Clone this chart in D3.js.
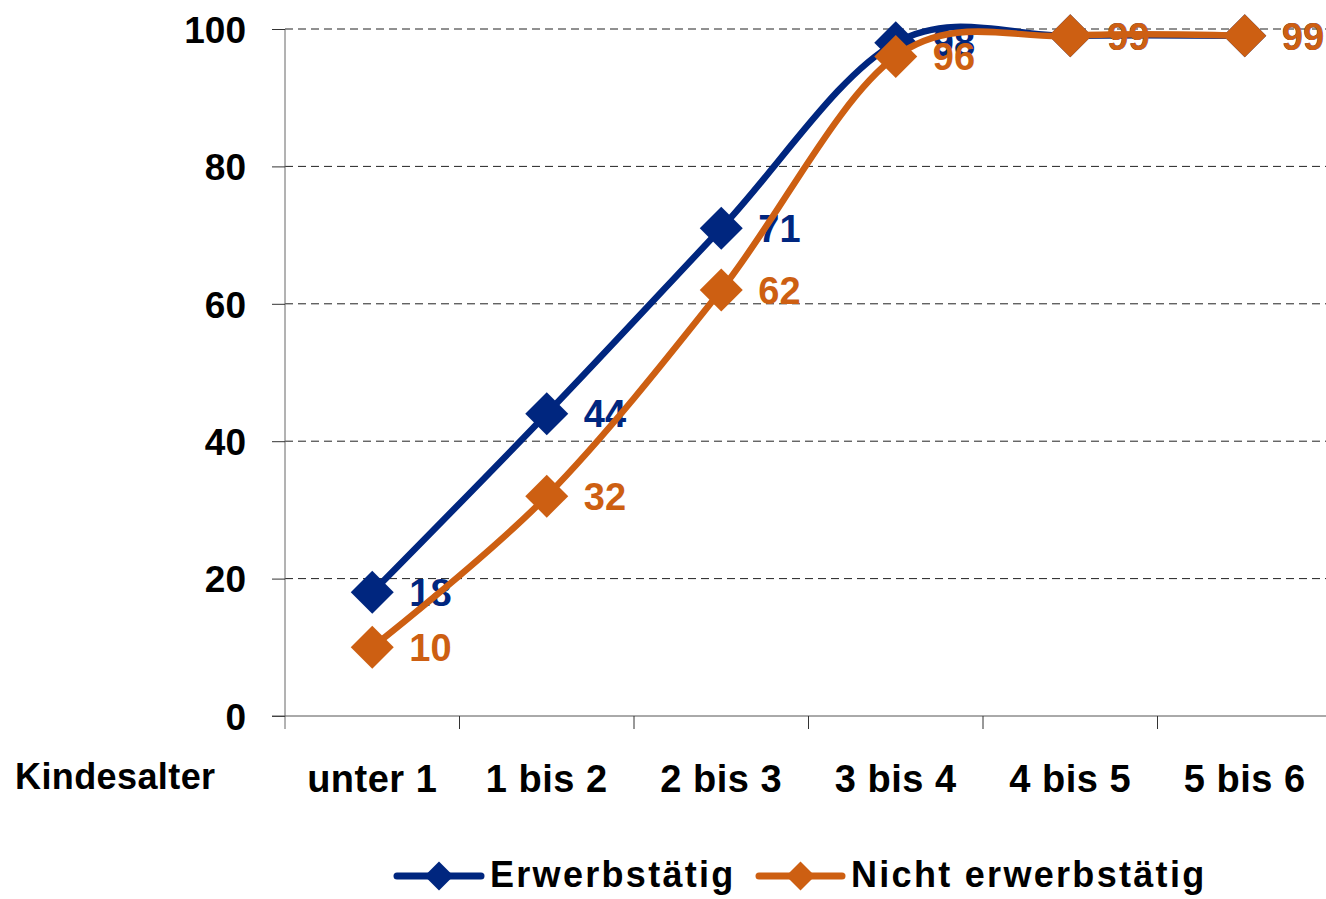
<!DOCTYPE html>
<html><head><meta charset="utf-8">
<script src="https://cdn.jsdelivr.net/npm/d3@7"></script>
<style>body{margin:0;background:#fff}svg{display:block}text{font-family:"Liberation Sans",Arial,sans-serif;font-weight:bold}</style>
</head><body>
<svg id="c" width="1326" height="899"></svg>
<script>
const categories = ["unter 1","1 bis 2","2 bis 3","3 bis 4","4 bis 5","5 bis 6"];
const erwerbstaetig = [18,44,71,98,99,99];
const nichtErwerbstaetig = [10,32,62,96,99,99];
const yTicks = [0,20,40,60,80,100];
const seriesNames = ["Erwerbstätig","Nicht erwerbstätig"];
const colors = ["#00267f","#cd5f12"];

const svg = d3.select("#c");
const x = d3.scaleBand().domain(categories).range([285,1332]);
const y = d3.scaleLinear().domain([0,100]).range([716,29]);

// gridlines
svg.append("g").selectAll("line").data(yTicks.filter(d=>d>0)).join("line")
  .attr("x1",285).attr("x2",1326).attr("y1",d=>y(d)).attr("y2",d=>y(d))
  .attr("stroke","#222").attr("stroke-width",1).attr("stroke-dasharray","8,5");

// y axis
const yAxis = svg.append("g").attr("transform","translate(285,0)")
  .call(d3.axisLeft(y).tickValues(yTicks).tickSize(13).tickPadding(26));
yAxis.select(".domain").attr("stroke","#666").attr("d","M0,29V729");
yAxis.selectAll(".tick line").attr("stroke","#333");
yAxis.selectAll("text").attr("font-size",37).attr("fill","#000")
  .attr("font-family","'Liberation Sans',Arial,sans-serif").attr("font-weight","bold").attr("dy","0.36em");

// x axis
const xAxis = svg.append("g").attr("transform","translate(0,716)")
  .call(d3.axisBottom(x).tickSize(0).tickPadding(0));
xAxis.select(".domain").attr("stroke","#555").attr("d","M272,0H1332");
xAxis.selectAll(".tick text").attr("font-size",38).attr("fill","#000")
  .attr("font-family","'Liberation Sans',Arial,sans-serif").attr("font-weight","bold")
  .attr("y",76).attr("dy",0).attr("letter-spacing",0.5);
// band boundary ticks
svg.append("g").selectAll("line").data(categories.slice(1)).join("line")
  .attr("x1",d=>x(d)).attr("x2",d=>x(d)).attr("y1",716).attr("y2",729)
  .attr("stroke","#333").attr("stroke-width",1);

svg.append("text").attr("x",15).attr("y",789).attr("font-size",36).attr("letter-spacing",0.4)
  .attr("fill","#000").text("Kindesalter");

const cx = d => x(d) + x.bandwidth()/2;
const line = d3.line().x((d,i)=>cx(categories[i])).y(d=>y(d)).curve(d3.curveCardinal.tension(0));
const diamond = (s) => `M0,${-s}L${s},0L0,${s}L${-s},0Z`;

[erwerbstaetig, nichtErwerbstaetig].forEach((vals, si) => {
  const g = svg.append("g");
  g.append("path").datum(vals).attr("d",line).attr("fill","none")
    .attr("stroke",colors[si]).attr("stroke-width",6.5).attr("stroke-linejoin","round");
  g.selectAll("path.m").data(vals).join("path").attr("class","m")
    .attr("transform",(d,i)=>`translate(${cx(categories[i])},${y(d)})`)
    .attr("d",diamond(21.5)).attr("fill",colors[si]);
  g.selectAll("text").data(vals).join("text")
    .attr("x",(d,i)=>cx(categories[i])+37).attr("y",d=>y(d)).attr("dy","0.36em")
    .attr("font-size",38).attr("fill",colors[si]).text(d=>d);
});

// legend
const leg = [{x0:397,x1:481,tx:490},{x0:759,x1:842,tx:851}];
leg.forEach((l,i)=>{
  const g = svg.append("g");
  g.append("line").attr("x1",l.x0).attr("x2",l.x1).attr("y1",876).attr("y2",876)
    .attr("stroke",colors[i]).attr("stroke-width",7).attr("stroke-linecap","round");
  g.append("path").attr("transform",`translate(${(l.x0+l.x1)/2},876)`).attr("d",diamond(14.5)).attr("fill",colors[i]);
  g.append("text").attr("x",l.tx).attr("y",887).attr("font-size",36).attr("letter-spacing",2.3)
    .attr("fill","#000").text(seriesNames[i]);
});
</script>
</body></html>
